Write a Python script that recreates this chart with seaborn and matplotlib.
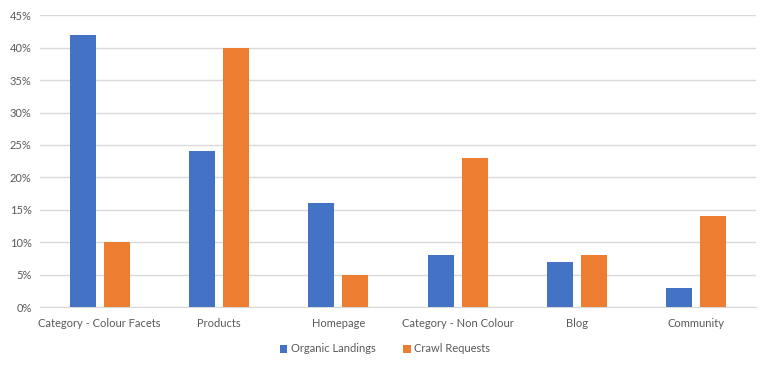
import pandas as pd
import matplotlib.pyplot as plt
import seaborn as sns
from matplotlib.ticker import PercentFormatter

# --- data ---
categories = ["Category - Colour Facets", "Products", "Homepage",
              "Category - Non Colour", "Blog", "Community"]
organic_landings = [42, 24, 16, 8, 7, 3]
crawl_requests = [10, 40, 5, 23, 8, 14]
series_names = ["Organic Landings", "Crawl Requests"]
y_ticks = [0, 5, 10, 15, 20, 25, 30, 35, 40, 45]

df = pd.DataFrame({
    "page": categories * 2,
    "series": [series_names[0]] * len(categories) + [series_names[1]] * len(categories),
    "share": organic_landings + crawl_requests,
})

sns.set_style("white")
plt.rcParams['font.family'] = ['Lato', 'DejaVu Sans']
text_grey = "#595959"

fig = plt.figure(figsize=(7.7, 3.69), dpi=100)
ax = fig.add_axes([40 / 770, 1 - 307 / 369, 716 / 770, (307 - 15.3) / 369])

# excel-style clustered bars: ~26px bars with ~8px gap between them
sns.barplot(data=df, x="page", y="share", hue="series", hue_order=series_names,
            order=categories, palette=["#4472C4", "#ED7D31"],
            width=0.57, gap=0.235, saturation=1, linewidth=0, ax=ax, zorder=3)

ax.set_xlim(-0.5, len(categories) - 0.5)
ax.set_ylim(0, 45)
ax.set_yticks(y_ticks)
ax.yaxis.set_major_formatter(PercentFormatter(decimals=0))
ax.grid(axis="y", color="#D9D9D9", linewidth=1, zorder=0)
ax.set_axisbelow(True)
for s in ["top", "right", "left"]:
    ax.spines[s].set_visible(False)
ax.spines["bottom"].set_color("#D9D9D9")
ax.tick_params(axis="both", length=0, labelsize=8, colors=text_grey, pad=6)
ax.tick_params(axis="x", pad=8)
ax.set_xlabel("")
ax.set_ylabel("")

ax.legend(loc="center", bbox_to_anchor=(385 / 770, 20 / 369),
          bbox_transform=fig.transFigure, ncol=2, frameon=False,
          fontsize=8, labelcolor=text_grey, handlelength=0.7, handleheight=0.7,
          handletextpad=0.3, columnspacing=2.5)

fig.savefig("out.png", dpi=100)
